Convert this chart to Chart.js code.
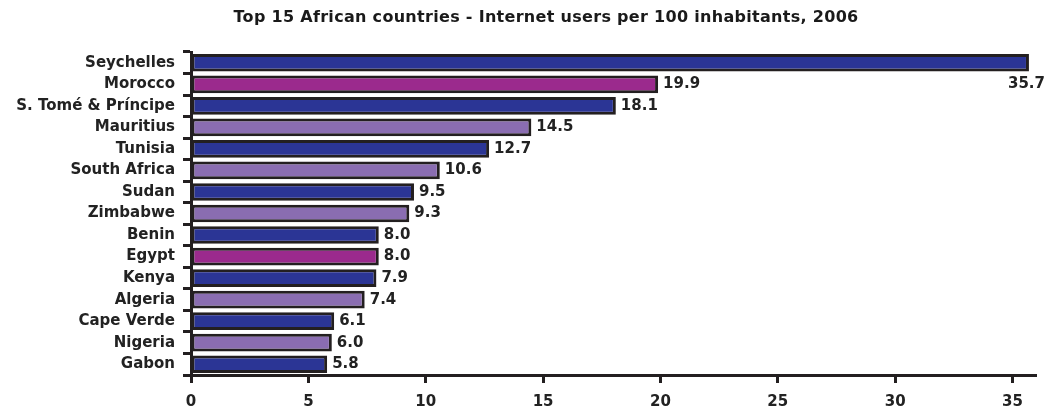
<!DOCTYPE html>
<html>
<head>
<meta charset="utf-8">
<script src="https://cdn.jsdelivr.net/npm/chart.js@4"></script>
<style>
  html, body { margin: 0; padding: 0; background: #fff; }
  #wrap { width: 1047px; height: 412px; }
</style>
</head>
<body>
<div id="wrap"><canvas id="myChart"></canvas></div>
<script>
const countries = ['Seychelles', 'Morocco', 'S. Tomé & Príncipe', 'Mauritius', 'Tunisia', 'South Africa', 'Sudan', 'Zimbabwe', 'Benin', 'Egypt', 'Kenya', 'Algeria', 'Cape Verde', 'Nigeria', 'Gabon'];
const usersPer100 = [35.7, 19.9, 18.1, 14.5, 12.7, 10.6, 9.5, 9.3, 8.0, 8.0, 7.9, 7.4, 6.1, 6.0, 5.8];
const barColors = ['#2b3595', '#9b2a8d', '#2b3595', '#8a6db1', '#2b3595', '#8a6db1', '#2b3595', '#8a6db1', '#2b3595', '#9b2a8d', '#2b3595', '#8a6db1', '#2b3595', '#8a6db1', '#2b3595'];
const xTicks = [0, 5, 10, 15, 20, 25, 30, 35];
const titleText = 'Top 15 African countries - Internet users per 100 inhabitants, 2006';

const ink = '#231f20';
const font = 'DejaVu Sans';

const titleAndLabels = {
  id: 'titleAndLabels',
  afterDatasetsDraw(chart) {
    const ctx = chart.ctx;
    ctx.save();
    ctx.fillStyle = '#1a1a1a';
    ctx.font = 'bold 16px "' + font + '"';
    ctx.letterSpacing = '0.3px';
    ctx.textAlign = 'center';
    ctx.textBaseline = 'middle';
    ctx.fillText(titleText, 546, 18);

    ctx.letterSpacing = '0px';
    ctx.font = 'bold 15px "' + font + '"';
    ctx.fillStyle = '#222';
    const meta = chart.getDatasetMeta(0);
    const step = chart.scales.y.getPixelForValue(1) - chart.scales.y.getPixelForValue(0);
    meta.data.forEach((bar, i) => {
      const txt = usersPer100[i].toFixed(1);
      const w = ctx.measureText(txt).width;
      if (bar.x + 5 + w > chart.width) {
        ctx.textAlign = 'right';
        ctx.fillText(txt, chart.width - 2, bar.y + step);
      } else {
        ctx.textAlign = 'left';
        ctx.fillText(txt, bar.x + 5, bar.y);
      }
    });
    ctx.restore();
  }
};

const graphData = {
  type: 'bar',
  data: {
    labels: countries,
    datasets: [{
      data: usersPer100,
      backgroundColor: barColors,
      borderColor: ink,
      borderWidth: 3,
      borderSkipped: false,
      categoryPercentage: 1,
      barPercentage: 0.82
    }]
  },
  options: {
    indexAxis: 'y',
    responsive: true,
    maintainAspectRatio: false,
    animation: false,
    layout: { padding: { top: 52, right: 11, bottom: 0, left: 0 } },
    plugins: {
      legend: { display: false },
      tooltip: { enabled: false }
    },
    scales: {
      x: {
        min: 0,
        max: 36,
        afterBuildTicks: s => { s.ticks = xTicks.map(v => ({ value: v })); },
        ticks: {
          padding: 10,
          color: '#222',
          font: { family: font, size: 15, weight: 'bold' }
        },
        grid: { drawOnChartArea: false, tickLength: 8, tickColor: ink, tickWidth: 3 },
        border: { color: ink, width: 3 },
        afterFit: s => { s.height = 37; s.paddingRight = 0; }
      },
      y: {
        ticks: {
          padding: 8,
          color: '#222',
          autoSkip: false,
          font: { family: font, size: 15, weight: 'bold' }
        },
        grid: { drawOnChartArea: false, offset: true, tickLength: 8, tickColor: ink, tickWidth: 3 },
        border: { color: ink, width: 3 },
        afterFit: s => { s.width = 191; }
      }
    }
  },
  plugins: [titleAndLabels]
};

const myChart = new Chart(document.querySelector('#myChart'), graphData);
</script>
</body>
</html>
